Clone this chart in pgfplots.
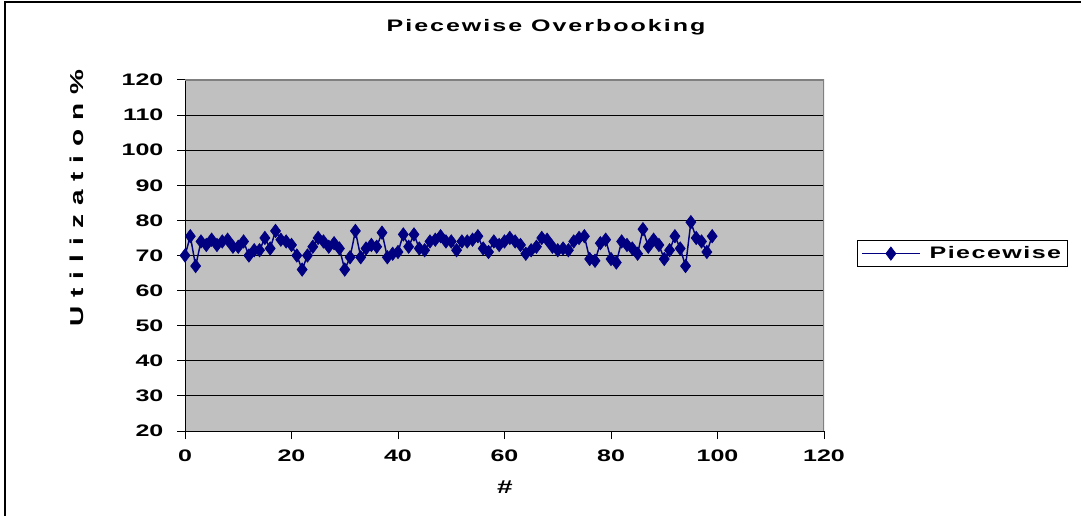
\documentclass[border=0pt]{standalone}
\usepackage{fontspec}
\setmainfont{Liberation Sans}[FakeStretch=1.5]
\newfontfamily\spaced{Liberation Sans}[FakeStretch=1.5, LetterSpace=12]
\newfontfamily\legendfont{Liberation Sans}[FakeStretch=1.5, LetterSpace=9]
\newfontfamily\wide{Liberation Sans}[FakeStretch=1.5, LetterSpace=48]
\usepackage{pgfplots}
\pgfplotsset{compat=1.18}
\definecolor{plotbg}{HTML}{C0C0C0}
\definecolor{navy}{HTML}{000080}
\definecolor{border}{HTML}{808080}

\begin{document}
\begin{tikzpicture}
% page size 1081x516 px, 1px = 0.75bp; axis origin at px (185,431)
\path[use as bounding box] (-138.75bp,-63.75bp) rectangle (672bp,323.25bp);
\begin{axis}[
    at={(0,0)}, anchor=south west,
    scale only axis,
    width=479.25bp, height=263.25bp,
    xmin=0, xmax=120, ymin=20, ymax=120,
    xtick={0,20,...,120}, ytick={20,30,...,120},
    axis lines*=left,
    axis line style={black, line width=0.75bp},
    tick align=outside,
    major tick length=6bp,
    tick style={black, line width=0.75bp},
    ymajorgrids,
    major grid style={black, line width=0.75bp},
    axis background/.style={fill=plotbg},
    /pgf/number format/assume math mode=true,
    tick label style={font=\fontsize{12.5bp}{14bp}\selectfont\bfseries},
    yticklabel style={inner sep=0pt, xshift=-10bp},
    xticklabel style={inner sep=0pt, yshift=-8bp},
    legend style={
        at={(1.0516,0.544)}, anchor=north west,
        draw=black, line width=0.75bp, fill=white,
        font=\fontsize{12.5bp}{14bp}\legendfont\bfseries,
        inner xsep=3bp, inner ysep=2.5bp,
        /tikz/every odd column/.append style={column sep=5bp},
    },
    legend image code/.code={
        \draw[mark repeat=2, mark phase=2] plot coordinates {(0bp,0bp) (21.5bp,0bp) (43bp,0bp)};
    },
]
\draw[border, line width=1.5bp] (rel axis cs:0,1) -- (rel axis cs:1,1) -- (rel axis cs:1,0);
\addplot[navy, line width=1.1bp, mark=diamond*, mark size=5bp, mark options={fill=navy, draw=navy, line width=0.5bp}]
coordinates {
(0,70) (1,75.5) (2,67) (3,74) (4,73) (5,74.5) (6,73) (7,74) (8,74.5) (9,72.5)
(10,72.5) (11,74) (12,70) (13,71.5) (14,71.5) (15,75) (16,72) (17,77) (18,74.5) (19,74)
(20,73) (21,70) (22,66) (23,70) (24,72.5) (25,75) (26,74) (27,72.5) (28,73.5) (29,72)
(30,66) (31,69.5) (32,77) (33,69.5) (34,72) (35,73) (36,72.5) (37,76.5) (38,69.5) (39,70.5)
(40,71) (41,76) (42,72.5) (43,76) (44,72) (45,71.5) (46,74) (47,74.5) (48,75.5) (49,74)
(50,74) (51,71.5) (52,74) (53,74) (54,74.5) (55,75.5) (56,72) (57,71) (58,74) (59,73)
(60,74) (61,75) (62,74) (63,73) (64,70.5) (65,71.5) (66,72.5) (67,75) (68,74.5) (69,72.5)
(70,71.5) (71,72) (72,71.5) (73,74) (74,75) (75,75.5) (76,69) (77,68.5) (78,73.5) (79,74.5)
(80,69) (81,68) (82,74) (83,73) (84,72) (85,70.5) (86,77.5) (87,72.5) (88,74.5) (89,73)
(90,69) (91,71.5) (92,75.5) (93,72) (94,67) (95,79.5) (96,75) (97,74) (98,71) (99,75.5)
};
\addlegendentry{Piecewise}
\end{axis}
\begin{scope}[x=0.75bp, y=-0.75bp, shift={(-138.75bp,323.25bp)}]
\draw[black, line width=1.5bp] (5,516) -- (5,2) -- (1081,2);
\node[font=\fontsize{12.5bp}{14bp}\spaced\bfseries] at (546,27) {Piecewise Overbooking};
\node[font=\fontsize{14bp}{16bp}\selectfont\bfseries] at (505,487) {\#};
\node[rotate=90, font=\fontsize{14bp}{16bp}\wide\bfseries] at (77,198) {Utilization\%};
\end{scope}
\end{tikzpicture}
\end{document}
